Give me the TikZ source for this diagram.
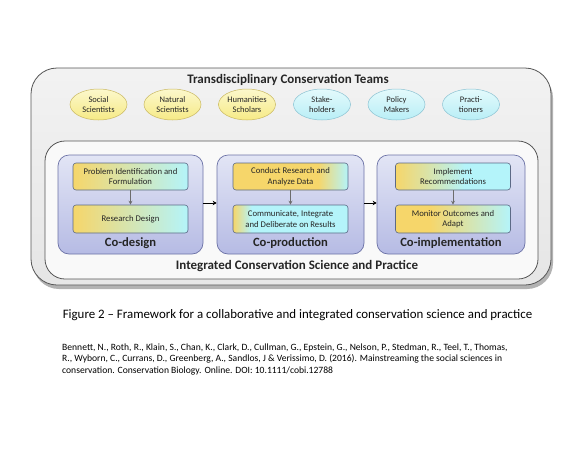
\documentclass[tikz,border=0pt]{standalone}
\usepackage{fontspec}
\setmainfont{Carlito}
\usetikzlibrary{arrows.meta,shapes.geometric}
\definecolor{ylw}{HTML}{F6D66A}
\definecolor{cyn}{HTML}{B4F4FA}
\definecolor{rectline}{HTML}{5C6A86}
\definecolor{stagetop}{HTML}{E2E5F5}
\definecolor{stagebot}{HTML}{B6BBE4}
\definecolor{stageline}{HTML}{6C72A6}
\definecolor{outerline}{HTML}{555555}
\definecolor{elly}{HTML}{F6EA86}
\definecolor{ellytop}{HTML}{FCF8CC}
\definecolor{ellyline}{HTML}{C9B862}
\definecolor{ellc}{HTML}{B8EEF6}
\definecolor{ellctop}{HTML}{E4FAFC}
\definecolor{ellcline}{HTML}{8CC2D2}
\definecolor{txt}{HTML}{262626}
\pgfdeclarehorizontalshading{ycA}{100bp}{color(0bp)=(ylw); color(25bp)=(ylw); color(75bp)=(cyn); color(100bp)=(cyn)}
\pgfdeclarehorizontalshading{ycB}{100bp}{color(0bp)=(ylw); color(25bp)=(ylw); color(62bp)=(ylw); color(75bp)=(cyn); color(100bp)=(cyn)}
\pgfdeclarehorizontalshading{ycC}{100bp}{color(0bp)=(ylw); color(25bp)=(ylw); color(33bp)=(cyn); color(100bp)=(cyn)}
\pgfdeclarehorizontalshading{ycD}{100bp}{color(0bp)=(ylw); color(25bp)=(ylw); color(38bp)=(ylw!60!cyn); color(55bp)=(cyn); color(100bp)=(cyn)}
\pgfdeclarehorizontalshading{ycE}{100bp}{color(0bp)=(ylw); color(25bp)=(ylw); color(40bp)=(ylw); color(75bp)=(cyn); color(100bp)=(cyn)}
\begin{document}
\begin{tikzpicture}[x=1pt,y=-1pt,
  every node/.style={text=txt},
  ell/.style={ellipse, minimum width=57pt, minimum height=31pt, inner sep=0pt, align=center, font=\fontsize{8.5}{10.6}\selectfont, line width=0.5pt},
  ellyel/.style={ell, draw=ellyline, top color=ellytop, bottom color=elly},
  ellcyn/.style={ell, draw=ellcline, top color=ellctop, bottom color=ellc},
  stagebox/.style={draw=stageline, line width=0.7pt, rounded corners=11pt, top color=stagetop, bottom color=stagebot, minimum height=99pt, inner sep=0pt},
  taskbox/.style={draw=rectline, line width=0.6pt, rounded corners=3pt, minimum width=115pt, inner sep=0pt, align=center, font=\fontsize{8.7}{10.4}\selectfont},
  stagelabel/.style={font=\fontsize{12.6}{14}\selectfont\bfseries, text=txt},
  headlabel/.style={font=\fontsize{13}{15}\selectfont\bfseries, text=txt},
  downarrow/.style={draw=gray!85!black, line width=0.9pt, -{Stealth[length=4pt,width=4pt]}},
  flowarrow/.style={draw=black, line width=0.9pt, -{Stealth[length=4pt,width=4.5pt]}}
]
\useasboundingbox[fill=white] (0,0) rectangle (584,451);
% outer box with shadow
\fill[gray!60, rounded corners=26pt] (33,72) rectangle (553,289);
\draw[outerline, line width=0.8pt, rounded corners=26pt, top color=gray!10, bottom color=gray!20] (31,68) rectangle (551,285);
\node[headlabel] (title) at (288,80) {Transdisciplinary Conservation Teams};
% inner box
\draw[outerline, line width=0.8pt, rounded corners=20pt, fill=gray!5] (45,141) rectangle (538,279);
\node[headlabel] (integ) at (297,266) {Integrated Conservation Science and Practice};
% ellipses
\node[ellyel] (e1) at (98.5,104.5) {Social\\Scientists};
\node[ellyel] (e2) at (172.5,104.5) {Natural\\Scientists};
\node[ellyel] (e3) at (247,104.5) {Humanities\\Scholars};
\node[ellcyn] (e4) at (322,104.5) {Stake-\\holders};
\node[ellcyn] (e5) at (396.5,104.5) {Policy\\Makers};
\node[ellcyn] (e6) at (471,104.5) {Practi-\\tioners};
% stage boxes
\node[stagebox, minimum width=145pt] (s1) at (130.5,204.5) {};
\node[stagebox, minimum width=147pt] (s2) at (290.5,204.5) {};
\node[stagebox, minimum width=148pt] (s3) at (451,204.5) {};
\node[stagelabel] (l1) at (130.5,243) {Co-design};
\node[stagelabel] (l2) at (290.5,243.5) {Co-production};
\node[stagelabel] (l3) at (451,243) {Co-implementation};
% task boxes
\node[taskbox, minimum height=27pt, shading=ycA] (t1) at (130.5,176.5) {Problem Identification and\\Formulation};
\node[taskbox, minimum height=28pt, shading=ycA] (t2) at (130.5,219) {Research Design};
\node[taskbox, minimum height=27pt, shading=ycB] (t3) at (290.5,176.5) {Conduct Research and\\Analyze Data};
\node[taskbox, minimum height=28pt, shading=ycC] (t4) at (290.5,219) {Communicate, Integrate\\and Deliberate on Results};
\node[taskbox, minimum height=27pt, shading=ycD] (t5) at (453,176.5) {Implement\\Recommendations};
\node[taskbox, minimum height=28pt, shading=ycE] (t6) at (453,219) {Monitor Outcomes and\\Adapt};
\draw[downarrow] (t1) -- (t2);
\draw[downarrow] (t3) -- (t4);
\draw[downarrow] (t5) -- (t6);
\draw[flowarrow] (s1.east |- 0,203) -- (s2.west |- 0,203);
\draw[flowarrow] (s2.east |- 0,203) -- (s3.west |- 0,203);
% caption
\node[font=\fontsize{12.9}{15}\selectfont, text=black] (cap) at (297.5,315) {Figure 2 -- Framework for a collaborative and integrated conservation science and practice};
\node[font=\fontsize{9.6}{11.1}\selectfont, text=black, align=left, anchor=north west, inner sep=0pt] (cite) at (62,344) {Bennett, N., Roth, R., Klain, S., Chan, K., Clark, D., Cullman, G., Epstein, G., Nelson, P., Stedman, R., Teel, T., Thomas,\\R., Wyborn, C., Currans, D., Greenberg, A., Sandlos, J \& Verissimo, D. (2016). Mainstreaming the social sciences in\\conservation. Conservation Biology. Online. DOI: 10.1111/cobi.12788};
\end{tikzpicture}
\end{document}
